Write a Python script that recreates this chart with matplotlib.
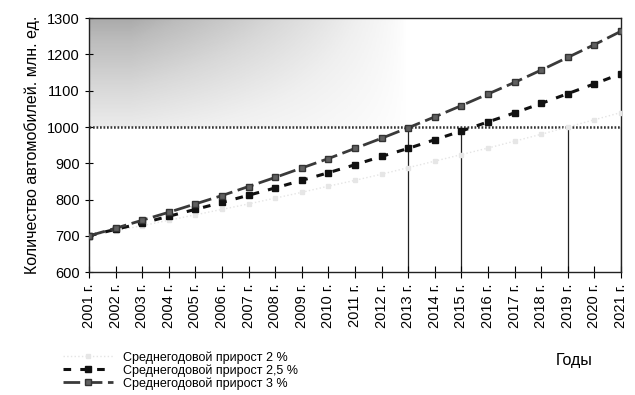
import numpy as np
import matplotlib
matplotlib.use("Agg")
import matplotlib.pyplot as plt

plt.rcParams['font.family'] = ['Liberation Sans', 'DejaVu Sans']

years = list(range(2001, 2022))
year_labels = [f"{y} г." for y in years]

# values (млн. ед.)
growth_2 = [700, 714, 728, 743, 758, 773, 788, 804, 820, 837, 853,
            870, 888, 906, 924, 942, 961, 980, 1000, 1020, 1040]
growth_25 = [700, 718, 735, 754, 773, 792, 812, 832, 853, 874, 896,
             919, 941, 965, 989, 1014, 1039, 1065, 1092, 1119, 1147]
growth_3 = [700, 721, 743, 765, 788, 811, 836, 861, 887, 913, 941,
            969, 998, 1028, 1059, 1091, 1123, 1157, 1192, 1227, 1264]

threshold = 1000
cross_years = [2013, 2015, 2019, 2021]

fig = plt.figure(figsize=(6.35, 3.95), dpi=100)
ax = fig.add_axes([0.140, 0.311, 0.838, 0.643])

# grey scan shading in upper left corner
gx = np.clip(np.linspace(1.15, -0.3, 300), 0, 1)[None, :] ** 0.7
gy = np.linspace(1, 0.35, 100)[:, None]
ax.imshow(gx * gy, extent=[2001, 2016, threshold, 1300], aspect='auto',
          cmap='Greys', vmin=0, vmax=2.3, origin='upper', zorder=0,
          interpolation='bilinear')

ax.axhline(threshold, color='#333333', lw=1.8, ls=(0, (0.7, 0.7)), zorder=2)
for y in cross_years:
    ax.plot([y, y], [600, threshold], color='#222222', lw=0.9, zorder=1)

l1, = ax.plot(years, growth_2, color='#e4e4e4', lw=1, ls=':', marker='s',
              ms=3, mfc='#e6e6e6', mec='#e6e6e6', zorder=3,
              label='Среднегодовой прирост 2 %')
l2, = ax.plot(years, growth_25, color='#111111', lw=2.2, ls=(0, (2.5, 3)),
              marker='s', ms=5, mfc='#111111', mec='#111111', zorder=4,
              label='Среднегодовой прирост 2,5 %')
l3, = ax.plot(years, growth_3, color='#3a3a3a', lw=2, ls=(0, (6, 2)),
              marker='s', ms=5, mfc='#606060', mec='#333333', zorder=5,
              label='Среднегодовой прирост 3 %')

ax.set_xlim(2001, 2021)
ax.set_ylim(600, 1300)
ax.set_yticks(range(600, 1301, 100))
ax.set_xticks(years)
ax.set_xticklabels(year_labels, rotation=90, fontsize=10.5)
ax.tick_params(axis='y', labelsize=10.5, direction='inout', length=6)
ax.tick_params(axis='x', direction='inout', length=8, pad=4)
for s in ax.spines.values():
    s.set_color('#222222')
    s.set_linewidth(1)

ax.set_ylabel('Количество автомобилей. млн. ед.', fontsize=11.5, labelpad=5)

fig.legend(handles=[l1, l2, l3], loc='upper left',
           bbox_to_anchor=(0.09, 0.127), frameon=False, fontsize=9,
           handlelength=4, labelspacing=0.05, borderpad=0, handletextpad=0.8)
fig.text(0.875, 0.088, 'Годы', fontsize=11.5, ha='left', va='center')

fig.savefig('out.png', dpi=100)
